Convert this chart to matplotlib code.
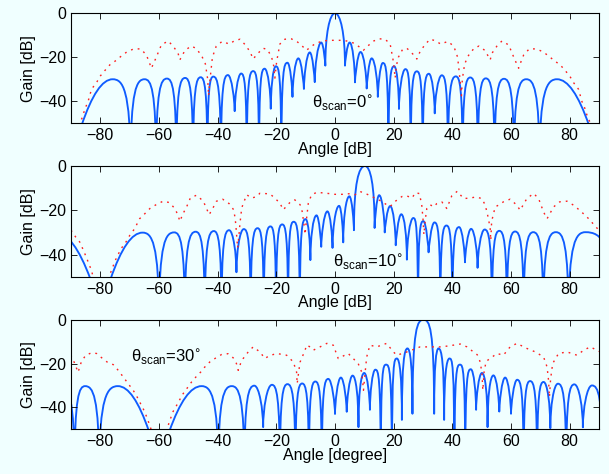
import numpy as np
import matplotlib
matplotlib.use('Agg')
import matplotlib.pyplot as plt
from matplotlib.path import Path
from matplotlib.patches import PathPatch

plt.rcParams['font.family'] = ['Liberation Sans', 'DejaVu Sans']
plt.rcParams['axes.unicode_minus'] = True

BG = '#F0FFFF'
BLUE = '#0f5cff'
RED = '#ff2020'

# ---------------- data ----------------
# blue curves: nodes (angle, gain, kind) p=peak, n=deep null (below axis),
# c=visible null depth, e=crossing of the -50 dB floor
b1_deg = [-86.4, -75.8, -69.7, -64.9, -61.0, -57.3, -54.1, -51.1, -48.4, -45.8, -43.5,
          -41.5, -38.9, -36.5, -34.2, -32.0, -30.1, -27.9, -25.9, -24.0, -21.9, -20.2,
          -18.3, -16.2, -14.5, -12.5, -10.6, -8.6, -6.9, -4.7, -3.3, 0.0, 3.4, 5.0, 6.8,
          8.7, 10.8, 12.5, 14.6, 16.3, 18.2, 20.2, 21.8, 24.0, 25.8, 27.9, 29.9, 32.0,
          34.0, 36.4, 38.5, 41.2, 43.5, 46.1, 48.7, 51.4, 54.4, 57.6, 61.0, 65.2, 69.7,
          75.7, 86.6]
b1_db = [-51, -30.0, None, -30.0, None, -29.7, None, -29.4, None, -29.1, None,
         -28.8, None, -28.1, -44.5, -27.4, None, -26.3, None, -25.2, -43.4, -24.1,
         None, -22.5, -38.0, -20.5, -34.4, -17.8, -31.3, -13.3, -23.8, 0.0, -23.8, -13.3, -31.4,
         -17.6, -34.2, -20.5, -38.0, -22.6, None, -24.1, -43.5, -25.4, None, -26.4, None, -27.5,
         -45.5, -28.2, None, -28.7, None, -29.2, None, -29.6, None, -29.8, None, -30.0, None,
         -30.0, -51]
b1_kind = ("ep" "npnpnpnpnpnp" "cp" "npnp" "cp" "np" "cpcpcpcpcpcpcpcp"
           "np" "cp" "npnp" "cp" "npnpnpnpnpnp" "e")

b2_deg = [-95.0, -83.4, -76.5, -65.6, -60.0, -54.8, -51.2, -47.5, -44.4, -41.3, -38.7,
          -36.1, -33.6, -31.1, -28.75, -26.4, -24.3, -22.0, -20.1, -18.0, -16.0, -14.1,
          -12.0, -10.0, -8.4, -6.3, -4.7, -2.6, -0.85, 1.4, 2.8, 4.9, 6.45, 10.2, 13.5,
          15.05, 16.95, 18.8, 20.7, 22.6, 24.5, 26.7, 28.3, 30.1, 31.9, 33.9, 35.9, 38.0,
          40.0, 42.3, 44.3, 46.4, 48.6, 51.0, 53.5, 56.0, 58.6, 61.4, 64.3, 67.6, 71.0,
          75.3, 79.6, 85.4, 95.0]
b2_db = [-30.3, -51, -51, -30.1, None, -30.0, None, -29.7, None, -29.4, None,
         -29.0, -48.0, -28.5, None, -28.1, None, -27.3, None, -26.4, None, -25.2,
         None, -24.0, -42.5, -22.3, -36.5, -20.5, -37.0, -18.0, -34.5, -13.7, -29.0, 0.0, -28.0,
         -13.2, -30.0, -18.1, -35.8, -21.8, -42.3, -23.5, None, -24.9, -39.0, -25.5, None, -26.9,
         None, -27.6, -43.5, -28.4, -46.0, -28.7, None, -29.3, None, -29.6, None, -29.9, None,
         -29.9, None, -29.9, None]
b2_kind = ("pee" "pnpnpnpn" "pc" "pnpnpnpnpn" "pcpcpcpcpcpcpcpcpc" "pn" "pc"
           "pnpn" "pcpc" "pnpnpnpnpnpn")

b3_deg = [-93.5, -88.8, -85.2, -80.4, -74.0, -63.4, -56.5, -45.5, -39.8, -35.2, -30.9,
          -27.5, -24.5, -21.5, -18.8, -16.2, -13.5, -11.2, -8.9, -6.7, -4.5, -2.3, 0.0,
          2.0, 4.0, 6.0, 8.0, 9.95, 11.9, 13.75, 15.6, 17.4, 19.4, 21.1, 22.8, 24.7, 26.4,
          30.2, 33.8, 35.3, 37.2, 39.0, 40.7, 42.6, 44.4, 46.3, 48.1, 50.1, 52.0, 54.0,
          56.0, 58.0, 60.0, 62.1, 64.3, 66.5, 68.9, 71.1, 73.4, 76.0, 78.8, 81.6, 84.5,
          87.6, 91.3]
b3_db = [-30.3, None, -30.3, None, -30.3, -51, -51, -30.3, None, -30.3, None,
         -30.1, -49.0, -29.7, None, -29.4, None, -29.1, None, -28.2, None, -27.0, -43.0,
         -26.4, -42.0, -25.5, -49.0, -24.3, -41.1, -22.8, None, -20.5, None, -17.7, -45.7, -13.1, -42.9,
         0.0, -42.9, -13.1, -45.7, -17.7, None, -20.5, None, -22.6, -41.1, -24.3, -49.0, -25.4,
         -41.9, -26.4, -42.9, -27.4, None, -28.0, None, -28.4, -49.5, -29.2, None, -29.5, -49.1,
         -30.0, None]
b3_kind = ("pnpnpee" "pnpn" "pc" "pnpnpnpnpc" "pcpcpc" "pnpn" "pcpc" "pcpc"
           "pnpn" "pcpcpcpc" "pnpn" "pc" "pn" "pc" "pn")

# red dotted curves (angle, gain); NaN = break below the floor
r1_deg = [-87.5, -86.1, -85.3, -84.2, -83.0, -81.3, -80.0, -78.5, -76.8, -74.7, -72.8, -70.9,
          -68.6, -66.2, -64.3, -63.4, -62.6, -61.1, -59.2, -56.9, -55.2, -53.5, -52.9, -51.2,
          -49.1, -47.4, -45.5, -44.2, -43.4, -43.1, -42.6, -41.8, -40.5, -38.5, -36.0, -34.3,
          -32.4, -30.7, -29.0, -27.9, -26.5, -24.5, -23.0, -21.6, -20.9, -20.5, -19.9, -18.8,
          -17.1, -15.0, -13.2, -11.5, -9.7, -8.5, -6.5, -4.0, -2.0, 0.0,
          2.0, 4.0, 6.5, 8.5, 9.7, 11.5, 13.2, 15.0, 17.1, 18.8, 19.9, 20.5, 20.9, 21.6, 23.0,
          24.5, 26.5, 27.9, 29.0, 30.7, 32.4, 34.3, 36.0, 38.5, 40.5, 41.8, 42.6, 43.1, 43.4,
          44.2, 45.5, 47.4, 49.1, 51.2, 52.9, 53.5, 55.2, 56.9, 59.2, 61.1, 62.6, 63.4, 64.3,
          66.2, 68.6, 70.9, 72.8, 74.7, 76.8, 78.5, 80.0, 81.3, 83.0, 84.2, 85.3, 86.1, 87.5]
r1_db = [-51.0, -47.3, -43.6, -40.2, -34.5, -31.5, -28.5, -26.1, -23.5, -21.5, -19.4, -17.5,
         -16.2, -16.2, -19.0, -22.0, -25.0, -20.5, -14.4, -12.6, -14.9, -18.2, -21.2, -17.0,
         -14.9, -15.9, -19.2, -23.0, -30.0, -37.5, -30.0, -20.0, -15.0, -12.8, -14.0, -12.5,
         -11.8, -14.2, -17.4, -20.8, -18.5, -15.9, -16.5, -20.0, -24.0, -29.5, -22.0, -14.0,
         -11.8, -11.6, -12.6, -14.5, -16.8, -15.5, -13.6, -12.6, -12.3, -12.3,
         -12.3, -12.6, -13.6, -15.5, -16.8, -14.5, -12.6, -11.6, -11.8, -14.0, -22.0, -29.5, -24.0,
         -20.0, -16.5, -15.9, -18.5, -20.8, -17.4, -14.2, -11.8, -12.5, -14.0, -12.8, -15.0, -20.0,
         -30.0, -37.5, -30.0, -23.0, -19.2, -15.9, -14.9, -17.0, -21.2, -18.2, -14.9, -12.6, -14.4,
         -20.5, -25.0, -22.0, -19.0, -16.2, -16.2, -17.5, -19.4, -21.5, -23.5, -26.1, -28.5, -31.5,
         -34.5, -40.2, -43.6, -47.3, -51.0]

r2_deg = [-90.0, -88.4, -87.0, -85.9, -84.8, -83.9, -83.0, -82.3, np.nan, -77.5, -77.0, -75.9,
          -75.1, -74.0, -72.8, -71.3, -70.0, -68.3, -66.6, -64.8, -63.1, -60.9, -58.6, -56.5,
          -54.6, -53.5, -52.9, -51.8, -50.6, -49.3, -47.2, -44.9, -43.8, -42.9, -41.7, -40.4,
          -38.3, -36.1, -34.7, -34.1, -33.8, -33.5, -33.2, -32.8, -32.4, -31.8, -30.7, -30.1,
          -28.4, -26.7, -25.6, -22.2, -20.5, -18.8, -17.6, -16.5, -15.0, -13.7, -11.9, -11.2,
          -10.8, -10.4, -10.2, -9.8, -9.1, -8.0, -6.2, -3.0, 0.0, 3.0, 5.0, 6.8, 8.5, 11.0,
          13.7, 15.9, 17.6, 18.8, 20.5, 22.8, 24.5, 26.2, 27.5, 28.8, 29.6, 30.0, 30.3, 30.8,
          31.3, 32.5, 33.5, 34.7, 36.4, 38.1, 39.8, 41.7, 43.8, 46.0, 48.0, 50.1, 51.2, 51.8,
          52.3, 52.9, 53.1, 53.4, 54.6, 55.7, 57.4, 59.7, 62.0, 63.1, 65.4, 67.7, 69.4, 71.1,
          72.3, 74.5, 76.6, 79.1, 81.3, 83.4, 85.3, 87.0, 88.4, 90.0]
r2_db = [-29.0, -32.1, -34.4, -37.7, -41.2, -44.2, -47.3, -51.0, np.nan, -51.0, -49.8, -46.2,
         -43.2, -40.1, -37.1, -34.4, -31.4, -28.3, -23.8, -21.5, -19.2, -17.4, -15.9, -16.5,
         -19.2, -22.3, -25.0, -21.5, -18.5, -14.4, -13.2, -15.9, -19.2, -22.0, -19.2, -15.9,
         -15.0, -17.0, -19.5, -23.0, -26.8, -32.0, -37.0, -32.0, -26.0, -18.9, -15.0, -13.0,
         -14.5, -13.8, -12.3, -12.6, -14.5, -16.8, -19.8, -18.0, -16.0, -15.3, -17.5, -20.5,
         -24.3, -28.1, -31.0, -25.0, -16.8, -13.0, -11.9, -12.3, -12.8, -12.8, -12.5, -13.0,
         -11.5, -12.8, -14.5, -16.0, -17.5, -18.3, -16.0, -13.8, -13.5, -14.5, -12.0, -12.5,
         -18.0, -24.0, -31.0, -24.0, -19.2, -17.5, -18.5, -17.0, -16.2, -19.2, -13.5, -11.4,
         -14.7, -14.5, -14.0, -14.7, -17.7, -20.8, -23.8, -28.3, -33.6, -25.0, -18.5, -17.7,
         -16.2, -15.0, -17.7, -20.0, -14.7, -12.4, -14.7, -20.8, -23.8, -18.5, -16.2, -15.9,
         -17.7, -20.0, -22.3, -24.5, -26.8, -29.0]

r3_deg = [-90.1, -88.7, -87.6, -86.5, -85.0, -83.0, -81.3, -79.6, -77.5, -75.6, -73.9, -72.2,
          -70.5, -68.8, -67.1, -66.0, -64.8, -64.0, -63.1, -62.5, np.nan, -57.4, -56.9, -56.1,
          -55.2, -54.0, -52.9, -51.8, -50.4, -48.9, -47.4, -45.8, -44.4, -42.7, -40.6, -38.7,
          -36.5, -34.7, -33.6, -33.0, -32.2, -31.3, -29.6, -27.9, -25.6, -23.9, -22.5, -19.9,
          -16.5, -14.2, -13.1, -12.9, -12.3, -11.9, -10.2, -9.7, -8.5, -7.4, -5.1, -2.8, -0.6,
          1.1, 4.5, 6.2, 7.9, 9.1, 9.4, 9.7, 10.2, 10.8, 11.9, 14.2, 17.6, 19.9, 21.1, 24.5,
          29.0, 31.8, 36.4, 40.4, 42.7, 45.0, 47.0, 48.5, 49.5, 50.1, 50.4, 50.8, 51.5, 52.9,
          55.2, 57.4, 59.7, 62.0, 65.4, 68.3, 71.1, 72.3, 72.8, 73.1, 73.5, 74.2, 76.2, 79.1,
          82.5, 84.8, 87.0, 89.3, 90.0]
r3_db = [-16.2, -20.0, -24.0, -19.3, -16.2, -15.1, -15.4, -17.3, -19.5, -20.5, -23.1, -26.1,
         -29.2, -32.2, -36.1, -39.1, -42.2, -45.2, -48.3, -51.0, np.nan, -51.0, -48.3, -45.2,
         -41.9, -39.1, -36.4, -33.8, -31.2, -28.4, -26.1, -23.9, -21.6, -19.3, -17.4, -15.9,
         -15.5, -17.4, -20.0, -23.1, -20.0, -17.7, -14.7, -12.4, -14.7, -17.7, -16.5, -15.4,
         -16.2, -19.3, -23.9, -29.2, -23.0, -19.3, -13.9, -11.6, -12.4, -13.9, -12.4, -10.8, -11.6,
         -17.7, -15.4, -17.7, -20.0, -23.9, -27.7, -32.2, -25.0, -17.0, -11.6, -12.4, -10.8, -14.7,
         -16.2, -14.7, -12.4, -12.4, -12.4, -11.6, -11.1, -12.4, -14.5, -16.0, -19.3, -24.6, -32.2,
         -24.0, -19.0, -17.7, -15.4, -16.2, -12.4, -10.8, -13.1, -14.7, -17.0, -21.6, -27.7, -35.3,
         -27.0, -20.0, -15.4, -14.7, -16.2, -13.9, -12.4, -13.9, -14.5]

x_ticks = [-80, -60, -40, -20, 0, 20, 40, 60, 80]
y_ticks = [0, -20, -40]
scan_labels = ['0', '10', '30']
scan_text_pos = [(-7.7, -43.0), (-0.7, -45.9), (-69.6, -19.3)]
x_labels = ['Angle [dB]', 'Angle [dB]', 'Angle [degree]']


def half_ctrl(a, n_db, kind, p, P):
    """control points of a half lobe from a null (a) to a peak (p)"""
    w = p - a
    if kind == 'e':
        return [(a, n_db), (a + w / 3.0, n_db + 2.0 * (P - n_db) / 3.0),
                (a + 2.0 * w / 3.0, P), (p, P)]
    N = -70.0 if kind == 'n' else n_db
    d = P - N
    k = min(max((6.5 - d / 8.0) / 0.375, 0.0), 0.9 * d)
    return [(a, N), (a, P - k), (a + 0.45 * w, P), (p, P)]


def lobe_path(deg, db, kind):
    assert len(deg) == len(db) == len(kind)
    verts, codes = [], []
    pen_at = None
    for i in range(len(deg) - 1):
        k0, k1 = kind[i], kind[i + 1]
        if k0 != 'p' and k1 != 'p':
            pen_at = None
            continue
        if k0 == 'p':
            pts = half_ctrl(deg[i + 1], db[i + 1], k1, deg[i], db[i])[::-1]
        else:
            pts = half_ctrl(deg[i], db[i], k0, deg[i + 1], db[i + 1])
        if pen_at is None or pen_at != pts[0]:
            verts.append(pts[0])
            codes.append(Path.MOVETO)
        verts.extend(pts[1:])
        codes.extend([Path.CURVE4] * 3)
        pen_at = pts[3]
    return Path(verts, codes)


fig = plt.figure(figsize=(6.09, 4.74), dpi=100, facecolor=BG)
positions = [[0.1166, 0.7400, 0.8670, 0.2320],
             [0.1166, 0.4163, 0.8670, 0.2335],
             [0.1166, 0.0943, 0.8670, 0.2312]]
blues = [(b1_deg, b1_db, b1_kind), (b2_deg, b2_db, b2_kind), (b3_deg, b3_db, b3_kind)]
reds = [(r1_deg, r1_db), (r2_deg, r2_db), (r3_deg, r3_db)]

for i in range(3):
    ax = fig.add_axes(positions[i])
    ax.set_facecolor(BG)
    rd, rg = reds[i]
    ax.plot(rd, rg, color=RED, lw=1.0, linestyle=(0, (1.3, 3.6)))
    bd, bg, bk = blues[i]
    ax.add_patch(PathPatch(lobe_path(bd, bg, bk), facecolor='none',
                           edgecolor=BLUE, lw=1.35, capstyle='round', joinstyle='round'))
    ax.set_xlim(-90, 90)
    ax.set_ylim(-50, 0)
    ax.set_xticks(x_ticks)
    ax.set_yticks(y_ticks)
    ax.tick_params(direction='in', top=True, right=True, length=4, width=0.6,
                   labelsize=11.5, pad=3.5)
    for s in ax.spines.values():
        s.set_linewidth(0.8)
    ax.set_ylabel('Gain [dB]', fontsize=11.5, labelpad=2)
    ax.set_xlabel(x_labels[i], fontsize=11.5, labelpad=-1)
    tx, ty = scan_text_pos[i]
    ax.text(tx, ty, r'$\mathregular{\theta_{scan}}$=' + scan_labels[i] + r'$^{\circ}$',
            fontsize=12, ha='left', va='baseline')

fig.savefig('out.png', dpi=100, facecolor=BG)
